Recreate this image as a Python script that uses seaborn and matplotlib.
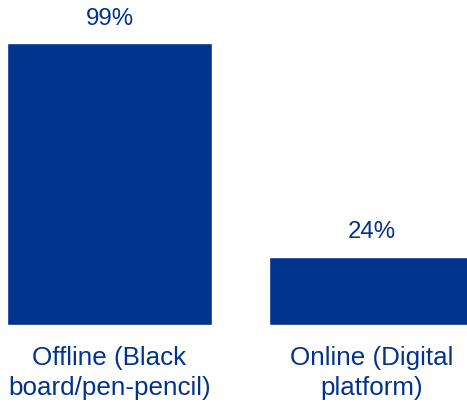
import matplotlib
matplotlib.use("Agg")
import matplotlib.pyplot as plt
import seaborn as sns
import pandas as pd

# Share of respondents by mode of teaching
categories = ["Offline (Black\nboard/pen-pencil)", "Online (Digital\nplatform)"]
shares = [99, 24]
value_labels = ["99%", "24%"]

BLUE = "#00338D"

sns.set_theme(style="white")
plt.rcParams["font.family"] = ["Liberation Sans", "DejaVu Sans"]

df = pd.DataFrame({"mode": categories, "share": shares})

fig = plt.figure(figsize=(4.67, 4.05), dpi=100)
ax = fig.add_axes([0, 80 / 405, 1, 325 / 405])

sns.barplot(data=df, x="mode", y="share", color=BLUE, saturation=1,
            width=0.78, ax=ax)

# Category 0 centred at 109.5 px, categories 262 px apart
ax.set_xlim(-109.5 / 262, (467 - 109.5) / 262)
ax.set_ylim(0, 325 / (282.4 / 99))

for i, (v, lab) in enumerate(zip(shares, value_labels)):
    ax.annotate(lab, xy=(i, v), xytext=(0, 13), textcoords="offset points",
                ha="center", va="baseline", fontsize=17.3, color=BLUE)

ax.set_xlabel("")
ax.set_ylabel("")
ax.set_yticks([])
ax.tick_params(axis="x", length=0, pad=15, labelsize=18.7, labelcolor=BLUE)
for lbl in ax.get_xticklabels():
    lbl.set_linespacing(1.3)
for s in ax.spines.values():
    s.set_visible(False)

fig.savefig("out.png", dpi=100)
